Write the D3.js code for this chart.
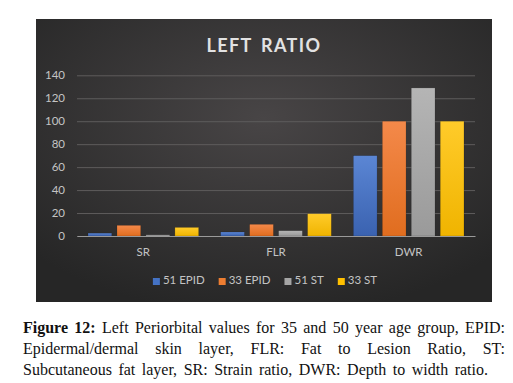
<!DOCTYPE html>
<html><head><meta charset="utf-8">
<script src="https://cdn.jsdelivr.net/npm/d3@7"></script>
<style>
html,body{margin:0;padding:0;background:#fff;}
svg{display:block;}
</style></head>
<body>
<svg id="c" width="513" height="383"></svg>
<script>
const title = "LEFT RATIO";
const categories = ["SR", "FLR", "DWR"];
const seriesNames = ["51 EPID", "33 EPID", "51 ST", "33 ST"];
const s51EPID = [2.5, 3.5, 70];
const s33EPID = [9.3, 10.2, 100];
const s51ST = [1, 4.6, 129];
const s33ST = [7.5, 19.4, 100];
const yTicks = [0, 20, 40, 60, 80, 100, 120, 140];
const captionBold = "Figure 12:";
const captionLines = [
  "Left Periorbital values for 35 and 50 year age group, EPID:",
  "Epidermal/dermal skin layer, FLR: Fat to Lesion Ratio, ST:",
  "Subcutaneous fat layer, SR: Strain ratio, DWR: Depth to width ratio."
];

const seriesValues = [s51EPID, s33EPID, s51ST, s33ST];
const colors = ["#4472C4", "#ED7D31", "#A5A5A5", "#FFC000"];
const colorsTop = ["#5b86d4", "#f4894a", "#b5b5b5", "#ffcb2a"];
const colorsBot = ["#3a62b0", "#e06d1f", "#9a9a9a", "#f0b400"];

const svg = d3.select("#c");
const defs = svg.append("defs");
const bg = defs.append("radialGradient").attr("id", "bg").attr("cx", "50%").attr("cy", "35%").attr("r", "70%");
bg.append("stop").attr("offset", "0%").attr("stop-color", "#484546");
bg.append("stop").attr("offset", "100%").attr("stop-color", "#262626");
seriesNames.forEach((s, i) => {
  const g = defs.append("linearGradient").attr("id", "g" + i).attr("x1", 0).attr("x2", 0).attr("y1", 0).attr("y2", 1);
  g.append("stop").attr("offset", "0%").attr("stop-color", colorsTop[i]);
  g.append("stop").attr("offset", "100%").attr("stop-color", colorsBot[i]);
});

// panel
svg.append("rect").attr("x", 36).attr("y", 19).attr("width", 456).attr("height", 283).attr("fill", "url(#bg)");

const font = "Lato, 'Open Sans', sans-serif";
svg.append("text").attr("x", 264).attr("y", 52).attr("text-anchor", "middle")
  .attr("font-family", font).attr("font-weight", "bold").attr("font-size", 18)
  .attr("letter-spacing", 1.4).attr("word-spacing", 3).attr("fill", "#e2e2e2").text(title);

const left = 77, right = 475;
const y = d3.scaleLinear().domain([0, 140]).range([236, 75.3]);
const x0 = d3.scaleBand().domain(categories).range([left, right]).padding(0);
const bw = x0.bandwidth();
const x1 = d3.scaleBand().domain(seriesNames).range([bw * 0.083, bw * 0.917]).paddingInner(0.18);

// grid
const yAxis = d3.axisLeft(y).tickValues(yTicks).tickSize(-(right - left)).tickPadding(12);
const ga = svg.append("g").attr("transform", `translate(${left},0)`).call(yAxis);
ga.select(".domain").remove();
ga.selectAll(".tick line").attr("stroke", "#5e5c5c").attr("stroke-width", 1);
ga.selectAll(".tick text").attr("font-family", font).attr("font-size", 11.5).attr("fill", "#c4c4c4");

// bars
const groups = svg.append("g").selectAll("g").data(categories).join("g")
  .attr("transform", d => `translate(${x0(d)},0)`);
groups.selectAll("rect").data((d, ci) => seriesNames.map((s, si) => ({s, si, v: seriesValues[si][ci]})))
  .join("rect")
  .attr("x", d => x1(d.s)).attr("width", x1.bandwidth())
  .attr("y", d => y(d.v)).attr("height", d => y(0) - y(d.v))
  .attr("fill", d => `url(#g${d.si})`)
  .attr("stroke", "rgba(0,0,0,0.25)").attr("stroke-width", 0.6);

// x axis
const xAxis = d3.axisBottom(x0).tickSize(0).tickPadding(12);
const gx = svg.append("g").attr("transform", `translate(0,${y(0)})`).call(xAxis);
gx.select(".domain").attr("stroke", "#9a9a9a").attr("stroke-width", 1);
gx.selectAll(".tick text").attr("font-family", font).attr("font-size", 11.5).attr("fill", "#c4c4c4");

// legend
const leg = svg.append("g");
const items = leg.selectAll("g").data(seriesNames).join("g");
items.append("rect").attr("width", 7).attr("height", 7).attr("y", -6).attr("fill", (d, i) => colors[i]);
items.append("text").attr("x", 10).attr("y", 0).attr("font-family", font).attr("font-size", 11.5)
  .attr("fill", "#c4c4c4").text(d => d);
let xpos = 0;
items.each(function () {
  const w = this.querySelector("text").getComputedTextLength();
  d3.select(this).attr("transform", `translate(${xpos},0)`);
  xpos += 10 + w + 14;
});
const legW = xpos - 14;
leg.attr("transform", `translate(${265 - legW / 2},284)`);

// caption, justified
const cap = svg.append("g");
const capFont = "'Liberation Serif', 'DejaVu Serif', serif";
const capX0 = 23, capX1 = 505, capSize = 16;
const baselines = [333, 354, 375];
const targets = [capX1, capX1, 488];
captionLines.forEach((line, li) => {
  const entries = [];
  if (li === 0) captionBold.split(" ").forEach(w => entries.push({w, bold: true}));
  line.split(" ").forEach(w => entries.push({w, bold: false}));
  const ts = entries.map(e => cap.append("text").attr("y", baselines[li])
    .attr("font-family", capFont).attr("font-size", capSize)
    .attr("font-weight", e.bold ? "bold" : "normal").attr("fill", "#111").text(e.w));
  const widths = ts.map(t => t.node().getComputedTextLength());
  const total = d3.sum(widths);
  const gap = (targets[li] - capX0 - total) / (entries.length - 1);
  let cx = capX0;
  ts.forEach((t, i) => { t.attr("x", cx); cx += widths[i] + gap; });
});
</script>
</body></html>
